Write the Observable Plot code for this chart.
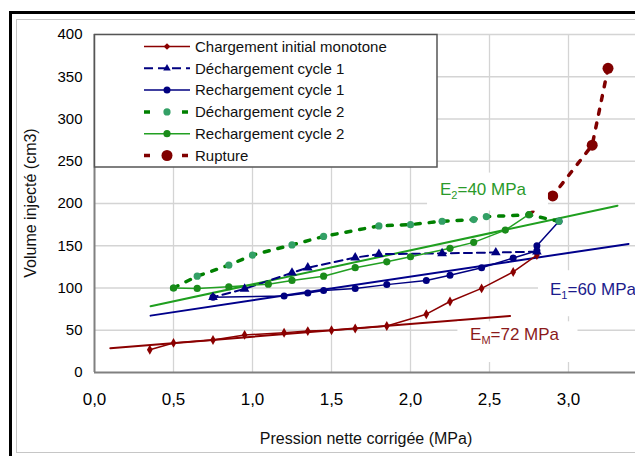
<!DOCTYPE html>
<html><head><meta charset="utf-8">
<script src="https://cdn.jsdelivr.net/npm/d3@7"></script>
<script src="https://cdn.jsdelivr.net/npm/@observablehq/plot@0.6"></script>
<style>
html,body{margin:0;padding:0;background:#fff;overflow:hidden}
#wrap{position:relative;width:635px;height:456px;overflow:hidden;font-family:"Liberation Sans",Arial,sans-serif}
#wrap svg{position:absolute;left:0;top:0;max-width:none}
.frame1{position:absolute;left:9px;top:11px;width:800px;height:600px;border-left:3px solid #000;border-top:3px solid #000}
.frame2{position:absolute;left:16px;top:19px;width:800px;height:432px;border:1.5px solid #c6c6c6}
</style></head><body><div id="wrap"></div>
<script>
// ---- data (pressure MPa, volume cm3) ----
const legendNames = ["Chargement initial monotone","Déchargement cycle 1","Rechargement cycle 1","Déchargement cycle 2","Rechargement cycle 2","Rupture"];

const chargementP = [0.35,0.50,0.75,0.95,1.20,1.35,1.50,1.65,1.85,2.10,2.25,2.45,2.65,2.80];
const chargementV = [27,35,38.5,44.5,47,49,50,52,55,69,84,99.5,119,139];

const dechargement1P = [2.80,2.54,2.20,1.80,1.65,1.35,1.25,0.95,0.75];
const dechargement1V = [143,142,141,140,136,124,118,99,89];

const rechargement1P = [0.75,1.20,1.35,1.45,1.65,1.85,2.10,2.25,2.45,2.65,2.80,2.80,2.94];
const rechargement1V = [89,90.5,94,97,99.5,104,109,115,124,135.5,144,150,179];

const dechargement2P = [2.94,2.75,2.48,2.40,2.20,2.00,1.80,1.45,1.25,1.00,0.85,0.65,0.50];
const dechargement2V = [179,186.5,184.5,181,179,175,173.5,161,151,139,127,114,100];

const rechargement2P = [0.50,0.65,0.85,1.10,1.25,1.45,1.65,1.85,2.00,2.25,2.40,2.60,2.75];
const rechargement2V = [100,99.5,101.5,104.5,109,114,124,131,137,147,154,168.5,187];

const ruptureP = [2.75,2.90,3.15,3.25];
const ruptureV = [187,209,269,360];

// modulus fit lines
const emP = [0.10,2.63], emV = [28.7,67];
const e1P = [0.355,3.38], e1V = [67.3,152.2];
const e2P = [0.355,3.31], e2V = [78.3,197.4];

// annotation texts
const annotMain = ["E","E","E"];
const annotSub = ["2","1","M"];
const annotRest = ["=40 MPa","=60 MPa","=72 MPa"];

const xTicks = [0,0.5,1.0,1.5,2.0,2.5,3.0];
const yTicks = [0,50,100,150,200,250,300,350,400];

// ---- build ----
const pts = (P,V) => P.map((p,i)=>({p, v:V[i]}));

const styles = [
  {stroke:"#8b0000", w:1.5, dash:null, sym:"diamond", r:3, fill:"#8b0000", lgDash:null},
  {stroke:"#000080", w:2, dash:"8,5", sym:"triangle", r:3.6, fill:"#000080", lgDash:"9,5"},
  {stroke:"#000080", w:1.5, dash:null, sym:"circle", r:3.5, fill:"#000080", lgDash:null},
  {stroke:"#008000", w:3.5, dash:"5,9", sym:"circle", r:3.6, fill:"#33a066", lgDash:"6,32"},
  {stroke:"#22a022", w:1.5, dash:null, sym:"circle", r:3.6, fill:"#1a8c1a", lgDash:null},
  {stroke:"#800000", w:3.5, dash:"5,9", sym:"circle", r:5.5, fill:"#800000", lgDash:"6,32"}
];
const seriesData = [
  pts(chargementP, chargementV),
  pts(dechargement1P, dechargement1V),
  pts(rechargement1P, rechargement1V),
  pts(dechargement2P, dechargement2V),
  pts(rechargement2P, rechargement2V),
  pts(ruptureP, ruptureV)
];

const fits = [
  {d: pts(emP, emV), stroke:"#8b0000"},
  {d: pts(e1P, e1V), stroke:"#00008b"},
  {d: pts(e2P, e2V), stroke:"#1f9f1f"}
];

const marks = [
  Plot.gridX(xTicks.slice(1), {stroke:"#d4d4d4", strokeOpacity:1, strokeWidth:1.3}),
  Plot.gridY(yTicks.slice(1), {stroke:"#d4d4d4", strokeOpacity:1, strokeWidth:1.3}),
  Plot.axisX(xTicks, {tickSize:0, tickPadding:20, fontSize:17, label:null, tickFormat:d=>d.toFixed(1).replace(".",",")}),
  Plot.axisY(yTicks, {tickSize:0, tickPadding:12, fontSize:15, label:null, tickFormat:d=>String(d)}),
  ...fits.map(f => Plot.line(f.d, {x:"p", y:"v", stroke:f.stroke, strokeWidth:2}))
];
seriesData.forEach((d,i)=>{
  const s = styles[i];
  marks.push(Plot.line(d, {x:"p", y:"v", stroke:s.stroke, strokeWidth:s.w, strokeDasharray:s.dash}));
});
seriesData.forEach((d,i)=>{
  const s = styles[i];
  const dd = i===5 ? d.slice(1) : d;
  marks.push(Plot.dot(dd, {x:"p", y:"v", symbol:s.sym, r:s.r, fill:s.fill, stroke:"none"}));
});
marks.push(Plot.ruleX([0], {stroke:"#808080", strokeWidth:2}));
marks.push(Plot.ruleY([0], {stroke:"#808080", strokeWidth:2}));

const plot = Plot.plot({
  width:660, height:456,
  marginLeft:94, marginRight:13, marginTop:34, marginBottom:84,
  x:{domain:[0,3.5]}, y:{domain:[0,400]},
  style:{background:"transparent", fontFamily:"'Liberation Sans', Arial, sans-serif", overflow:"visible", color:"#000"},
  marks
});
document.getElementById("wrap").appendChild(plot);

const X = plot.scale("x"), Y = plot.scale("y");
const svg = d3.select(plot);

// annotation boxes + texts (positions in data units)
const annotBox = [[2.108,2.873,236,191],[2.81,3.49,120.4,66],[2.30,3.06,60,11.8]];
const annotAt = [[2.19,210],[2.886,90.9],[2.38,37.8]];
const annotColor = ["#2a9a2a","#1c1c8c","#8b1a1a"];
const ga = svg.append("g").attr("text-anchor","start");
annotMain.forEach((m,i)=>{
  const b = annotBox[i];
  ga.append("rect").attr("x", X.apply(b[0])).attr("y", Y.apply(b[2]))
    .attr("width", X.apply(b[1]) - X.apply(b[0])).attr("height", Y.apply(b[3]) - Y.apply(b[2]))
    .attr("fill","#fff");
  const t = ga.append("text").attr("x", X.apply(annotAt[i][0])).attr("y", Y.apply(annotAt[i][1]))
    .attr("fill", annotColor[i]).attr("font-size",17).attr("text-anchor","start");
  t.append("tspan").text(m);
  t.append("tspan").attr("font-size",11).attr("dy",4).text(annotSub[i]);
  t.append("tspan").attr("dy",-4).text(annotRest[i]);
});

// legend
const gl = svg.append("g").attr("text-anchor","start");
gl.append("rect").attr("x",94.5).attr("y",34.5).attr("width",342.5).attr("height",132.5)
  .attr("fill","#fff").attr("stroke","#555").attr("stroke-width",1.5);
legendNames.forEach((name,i)=>{
  const s = styles[i];
  const cy = 46.5 + i*21.8;
  gl.append("line").attr("x1",144).attr("x2",190).attr("y1",cy).attr("y2",cy)
    .attr("stroke",s.stroke).attr("stroke-width",s.w).attr("stroke-dasharray",s.lgDash);
  const sym = d3.symbol().type({diamond:d3.symbolDiamond2, triangle:d3.symbolTriangle2, circle:d3.symbolCircle}[s.sym])
    .size(Math.PI*s.r*s.r);
  gl.append("path").attr("d", sym()).attr("transform",`translate(167,${cy})`).attr("fill",s.fill);
  gl.append("text").attr("x",195).attr("y",cy+5.3).attr("font-size",15).attr("fill","#111")
    .attr("text-anchor","start").text(name);
});

// axis titles
svg.append("text").attr("x",366).attr("y",444).attr("text-anchor","middle").attr("font-size",16).attr("fill","#111")
  .text("Pression nette corrigée (MPa)");
svg.append("text").attr("transform","translate(36,203) rotate(-90)").attr("text-anchor","middle").attr("font-size",16).attr("fill","#111")
  .text("Volume injecté (cm3)");

const f1 = document.createElement("div"); f1.className="frame1";
const f2 = document.createElement("div"); f2.className="frame2";
document.getElementById("wrap").append(f1,f2);
</script>
</body></html>
